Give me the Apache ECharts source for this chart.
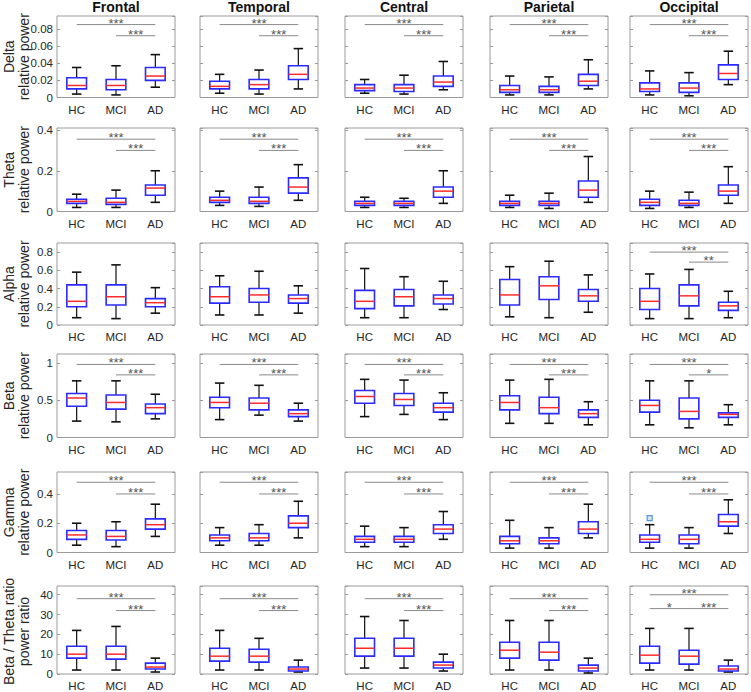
<!DOCTYPE html>
<html><head><meta charset="utf-8">
<script src="https://cdn.jsdelivr.net/npm/echarts@6/dist/echarts.min.js"></script>
<style>html,body{margin:0;padding:0;background:#fff}#c{width:751px;height:692px}</style>
</head><body><div id="c"></div>
<script>
// ---------- data ----------
const groups = ['HC', 'MCI', 'AD'];
const regions = ['Frontal', 'Temporal', 'Central', 'Parietal', 'Occipital'];
const bandNames = [['Delta', 'relative power'], ['Theta', 'relative power'], ['Alpha', 'relative power'],
  ['Beta', 'relative power'], ['Gamma', 'relative power'], ['Beta / Theta ratio', 'power ratio']];
const yMax = [0.095, 0.41, 0.9, 1.12, 0.55, 44.4];
const yInterval = [0.02, 0.2, 0.2, 0.5, 0.2, 10];

// each box: [lower whisker, Q1, median, Q3, upper whisker]; per region: [HC, MCI, AD]
const deltaBoxes = [
  [[0.004, 0.010, 0.014, 0.023, 0.035], [0.003, 0.009, 0.014, 0.021, 0.037], [0.012, 0.020, 0.025, 0.035, 0.050]],
  [[0.005, 0.010, 0.013, 0.019, 0.027], [0.004, 0.010, 0.015, 0.021, 0.032], [0.010, 0.021, 0.027, 0.037, 0.057]],
  [[0.005, 0.008, 0.011, 0.015, 0.021], [0.004, 0.007, 0.011, 0.015, 0.026], [0.009, 0.013, 0.018, 0.025, 0.042]],
  [[0.003, 0.006, 0.009, 0.014, 0.025], [0.003, 0.006, 0.009, 0.013, 0.024], [0.010, 0.014, 0.019, 0.027, 0.044]],
  [[0.003, 0.007, 0.010, 0.017, 0.031], [0.002, 0.006, 0.011, 0.017, 0.029], [0.015, 0.021, 0.028, 0.038, 0.054]]
];
const thetaBoxes = [
  [[0.02, 0.04, 0.05, 0.06, 0.085], [0.02, 0.035, 0.045, 0.065, 0.105], [0.045, 0.08, 0.115, 0.13, 0.2]],
  [[0.03, 0.045, 0.055, 0.07, 0.1], [0.025, 0.04, 0.05, 0.07, 0.12], [0.055, 0.09, 0.12, 0.165, 0.23]],
  [[0.02, 0.03, 0.04, 0.05, 0.07], [0.02, 0.03, 0.04, 0.05, 0.065], [0.04, 0.07, 0.1, 0.12, 0.2]],
  [[0.02, 0.03, 0.04, 0.05, 0.08], [0.015, 0.03, 0.04, 0.05, 0.09], [0.045, 0.07, 0.105, 0.15, 0.27]],
  [[0.015, 0.03, 0.045, 0.06, 0.1], [0.02, 0.03, 0.04, 0.055, 0.095], [0.04, 0.08, 0.1, 0.13, 0.22]]
];
const alphaBoxes = [
  [[0.08, 0.2, 0.26, 0.44, 0.58], [0.07, 0.22, 0.31, 0.44, 0.66], [0.13, 0.2, 0.245, 0.29, 0.41]],
  [[0.11, 0.24, 0.31, 0.42, 0.54], [0.11, 0.25, 0.33, 0.4, 0.59], [0.13, 0.24, 0.29, 0.33, 0.43]],
  [[0.08, 0.18, 0.26, 0.38, 0.62], [0.08, 0.21, 0.31, 0.39, 0.53], [0.17, 0.23, 0.29, 0.33, 0.48]],
  [[0.09, 0.22, 0.33, 0.5, 0.64], [0.08, 0.28, 0.43, 0.53, 0.7], [0.14, 0.26, 0.32, 0.39, 0.55]],
  [[0.07, 0.17, 0.26, 0.4, 0.56], [0.07, 0.21, 0.32, 0.44, 0.61], [0.08, 0.16, 0.21, 0.25, 0.37]]
];
const betaBoxes = [
  [[0.22, 0.42, 0.53, 0.59, 0.76], [0.21, 0.38, 0.47, 0.57, 0.76], [0.25, 0.32, 0.4, 0.45, 0.58]],
  [[0.24, 0.4, 0.47, 0.54, 0.73], [0.3, 0.37, 0.46, 0.53, 0.7], [0.22, 0.28, 0.32, 0.37, 0.46]],
  [[0.28, 0.46, 0.55, 0.63, 0.78], [0.31, 0.43, 0.51, 0.59, 0.77], [0.24, 0.34, 0.4, 0.46, 0.6]],
  [[0.19, 0.37, 0.47, 0.56, 0.77], [0.19, 0.32, 0.4, 0.54, 0.78], [0.17, 0.27, 0.32, 0.37, 0.48]],
  [[0.17, 0.34, 0.43, 0.5, 0.76], [0.13, 0.25, 0.35, 0.53, 0.76], [0.17, 0.27, 0.31, 0.33, 0.44]]
];
const gammaBoxes = [
  [[0.05, 0.09, 0.12, 0.15, 0.2], [0.04, 0.085, 0.11, 0.15, 0.21], [0.11, 0.16, 0.19, 0.23, 0.33]],
  [[0.05, 0.08, 0.1, 0.12, 0.17], [0.05, 0.08, 0.1, 0.13, 0.19], [0.1, 0.17, 0.2, 0.25, 0.35]],
  [[0.04, 0.07, 0.09, 0.11, 0.18], [0.04, 0.07, 0.09, 0.11, 0.17], [0.09, 0.13, 0.16, 0.19, 0.28]],
  [[0.03, 0.06, 0.08, 0.11, 0.22], [0.03, 0.06, 0.08, 0.1, 0.17], [0.1, 0.13, 0.16, 0.21, 0.33]],
  [[0.03, 0.07, 0.09, 0.12, 0.19], [0.03, 0.06, 0.09, 0.12, 0.17], [0.13, 0.18, 0.21, 0.26, 0.36]]
];
const ratioBoxes = [
  [[2, 8, 10, 14, 22], [2, 7.5, 10, 14, 24], [1, 2.5, 3.5, 5.5, 8]],
  [[2, 6.5, 9, 13, 22], [2, 6, 9, 12.5, 18], [1, 1.5, 2.5, 3.5, 7]],
  [[3, 9, 13, 18, 29], [3, 9, 13, 18, 27], [1.5, 3, 4.5, 6, 10]],
  [[2, 8, 12, 16, 27], [2, 7, 11, 16, 27], [0.5, 1.5, 3, 4.5, 8]],
  [[2, 5.5, 9.5, 14, 23], [2, 5, 9, 12, 23], [1, 1.5, 2.5, 4, 7]]
];
// outliers: [regionIndex, groupIndex, value]
const gammaOutliers = [[4, 0, 0.235]];

// significance bars: [fromGroup, toGroup, y, stars]; per region
const deltaSig = [
  [[0, 2, 0.085, '***'], [1, 2, 0.072, '***']], [[0, 2, 0.085, '***'], [1, 2, 0.072, '***']],
  [[0, 2, 0.085, '***'], [1, 2, 0.072, '***']], [[0, 2, 0.085, '***'], [1, 2, 0.072, '***']],
  [[0, 2, 0.085, '***'], [1, 2, 0.072, '***']]
];
const thetaSig = [
  [[0, 2, 0.355, '***'], [1, 2, 0.3, '***']], [[0, 2, 0.355, '***'], [1, 2, 0.3, '***']],
  [[0, 2, 0.355, '***'], [1, 2, 0.3, '***']], [[0, 2, 0.355, '***'], [1, 2, 0.3, '***']],
  [[0, 2, 0.355, '***'], [1, 2, 0.3, '***']]
];
const alphaSig = [[], [], [], [], [[0, 2, 0.8, '***'], [1, 2, 0.69, '**']]];
const betaSig = [
  [[0, 2, 0.98, '***'], [1, 2, 0.84, '***']], [[0, 2, 0.98, '***'], [1, 2, 0.84, '***']],
  [[0, 2, 0.98, '***'], [1, 2, 0.84, '***']], [[0, 2, 0.98, '***'], [1, 2, 0.84, '***']],
  [[0, 2, 0.98, '***'], [1, 2, 0.84, '*']]
];
const gammaSig = [
  [[0, 2, 0.48, '***'], [1, 2, 0.4, '***']], [[0, 2, 0.48, '***'], [1, 2, 0.4, '***']],
  [[0, 2, 0.48, '***'], [1, 2, 0.4, '***']], [[0, 2, 0.48, '***'], [1, 2, 0.4, '***']],
  [[0, 2, 0.48, '***'], [1, 2, 0.4, '***']]
];
const ratioSig = [
  [[0, 2, 38, '***'], [1, 2, 32, '***']], [[0, 2, 38, '***'], [1, 2, 32, '***']],
  [[0, 2, 38, '***'], [1, 2, 32, '***']], [[0, 2, 38, '***'], [1, 2, 32, '***']],
  [[0, 2, 40, '***'], [0, 1, 33, '*'], [1, 2, 33, '***']]
];

const allBoxes = [deltaBoxes, thetaBoxes, alphaBoxes, betaBoxes, gammaBoxes, ratioBoxes];
const allSig = [deltaSig, thetaSig, alphaSig, betaSig, gammaSig, ratioSig];

// ---------- layout ----------
const colLeft = [57, 200, 345, 490, 630];
const colWidth = 118;
const rowTop = [16, 128, 243, 354, 472, 586];
const rowBottom = [97.5, 211.5, 325, 437.5, 552.5, 677];
const FONT = '"Liberation Sans", Arial, Helvetica, sans-serif';
const FRAME = '#9a9a9a';

const grids = [], xAxes = [], yAxes = [], series = [], titles = [], graphics = [];
function fmt(v) { return String(+v.toFixed(4)); }

for (let r = 0; r < 6; r++) {
  for (let c = 0; c < 5; c++) {
    const gi = grids.length;
    grids.push({
      left: colLeft[c], top: rowTop[r], width: colWidth, height: rowBottom[r] - rowTop[r],
      show: true, borderColor: FRAME, borderWidth: 1, backgroundColor: '#fff'
    });
    xAxes.push({
      type: 'category', gridIndex: gi, data: groups, boundaryGap: true,
      axisLine: { show: false }, axisTick: { show: false },
      axisLabel: { margin: 6, fontSize: 11.5, color: '#262626', fontFamily: FONT }
    });
    const yBase = {
      type: 'value', gridIndex: gi, min: 0, max: yMax[r], interval: yInterval[r],
      splitLine: { show: false }, axisLine: { show: false },
      axisTick: { show: true, inside: true, length: 3, lineStyle: { color: FRAME } }
    };
    yAxes.push(Object.assign({}, yBase, {
      position: 'left',
      axisLabel: { show: c === 0, showMaxLabel: false, margin: 4, fontSize: 11.5, color: '#262626', fontFamily: FONT, formatter: fmt }
    }));
    yAxes.push(Object.assign({}, yBase, { position: 'right', axisLabel: { show: false } }));
    const yi = gi * 2;

    const boxes = allBoxes[r][c];
    series.push({
      type: 'custom', xAxisIndex: gi, yAxisIndex: yi, silent: true,
      data: boxes.map((b, k) => [k].concat(b)),
      encode: { x: 0, y: [1, 2, 3, 4, 5] },
      renderItem: function (params, api) {
        const k = api.value(0);
        const v = [1, 2, 3, 4, 5].map(d => api.value(d));
        const bw = api.size([1, 0])[0];
        const p = v.map(val => api.coord([k, val]));
        const cx = p[0][0];
        const hw = bw * 0.25, cw = bw * 0.12;
        const ch = [];
        ch.push({ type: 'line', shape: { x1: cx, y1: p[3][1], x2: cx, y2: p[4][1] }, style: { stroke: '#111', lineWidth: 1.2 } });
        ch.push({ type: 'line', shape: { x1: cx, y1: p[1][1], x2: cx, y2: p[0][1] }, style: { stroke: '#111', lineWidth: 1.2 } });
        ch.push({ type: 'line', shape: { x1: cx - cw, y1: p[4][1], x2: cx + cw, y2: p[4][1] }, style: { stroke: '#111', lineWidth: 1.6 } });
        ch.push({ type: 'line', shape: { x1: cx - cw, y1: p[0][1], x2: cx + cw, y2: p[0][1] }, style: { stroke: '#111', lineWidth: 1.6 } });
        ch.push({ type: 'rect', shape: { x: cx - hw, y: p[3][1], width: 2 * hw, height: p[1][1] - p[3][1] }, style: { fill: '#fff', stroke: '#2b2bff', lineWidth: 1.6 } });
        ch.push({ type: 'line', shape: { x1: cx - hw, y1: p[2][1], x2: cx + hw, y2: p[2][1] }, style: { stroke: '#ff2a2a', lineWidth: 1.5 } });
        return { type: 'group', children: ch };
      }
    });

    const sig = allSig[r][c];
    if (sig.length) {
      series.push({
        type: 'custom', xAxisIndex: gi, yAxisIndex: yi, silent: true,
        data: sig.map(s => [s[0], s[2], s[1]]),
        encode: { x: 0, y: 1 },
        renderItem: function (params, api) {
          const s = sig[params.dataIndex];
          const a = api.coord([s[0], s[2]]);
          const b = api.coord([s[1], s[2]]);
          return {
            type: 'group', children: [
              { type: 'line', shape: { x1: a[0], y1: a[1], x2: b[0], y2: b[1] }, style: { stroke: '#8a8a8a', lineWidth: 1 } },
              { type: 'text', x: (a[0] + b[0]) / 2, y: a[1] + 5, style: { text: s[3], fill: '#555', font: '13px ' + FONT, textAlign: 'center', textVerticalAlign: 'bottom' } }
            ]
          };
        }
      });
    }

    if (r === 4) {
      const outs = gammaOutliers.filter(o => o[0] === c).map(o => [o[1], o[2]]);
      if (outs.length) {
        series.push({
          type: 'scatter', xAxisIndex: gi, yAxisIndex: yi, silent: true, data: outs,
          symbol: 'rect', symbolSize: 5,
          itemStyle: { color: '#cfe0f5', borderColor: '#2f7fd6', borderWidth: 1.2 }
        });
      }
    }
  }
  const midY = (rowTop[r] + rowBottom[r]) / 2;
  graphics.push({ type: 'text', x: 9, y: midY, rotation: Math.PI / 2, style: { text: bandNames[r][0], font: '14px ' + FONT, fill: '#262626', textAlign: 'center', textVerticalAlign: 'middle' } });
  graphics.push({ type: 'text', x: 24, y: midY, rotation: Math.PI / 2, style: { text: bandNames[r][1], font: '14px ' + FONT, fill: '#262626', textAlign: 'center', textVerticalAlign: 'middle' } });
}
for (let c = 0; c < 5; c++) {
  titles.push({
    text: regions[c], left: colLeft[c] + colWidth / 2, top: 0, textAlign: 'center', padding: 0,
    textStyle: { fontSize: 14, fontWeight: 'bold', color: '#111', fontFamily: FONT }
  });
}

const chart = echarts.init(document.getElementById('c'), null, { renderer: 'svg' });
chart.setOption({
  animation: false, backgroundColor: '#fff',
  title: titles, grid: grids, xAxis: xAxes, yAxis: yAxes, series: series, graphic: graphics
});
</script>
</body></html>
